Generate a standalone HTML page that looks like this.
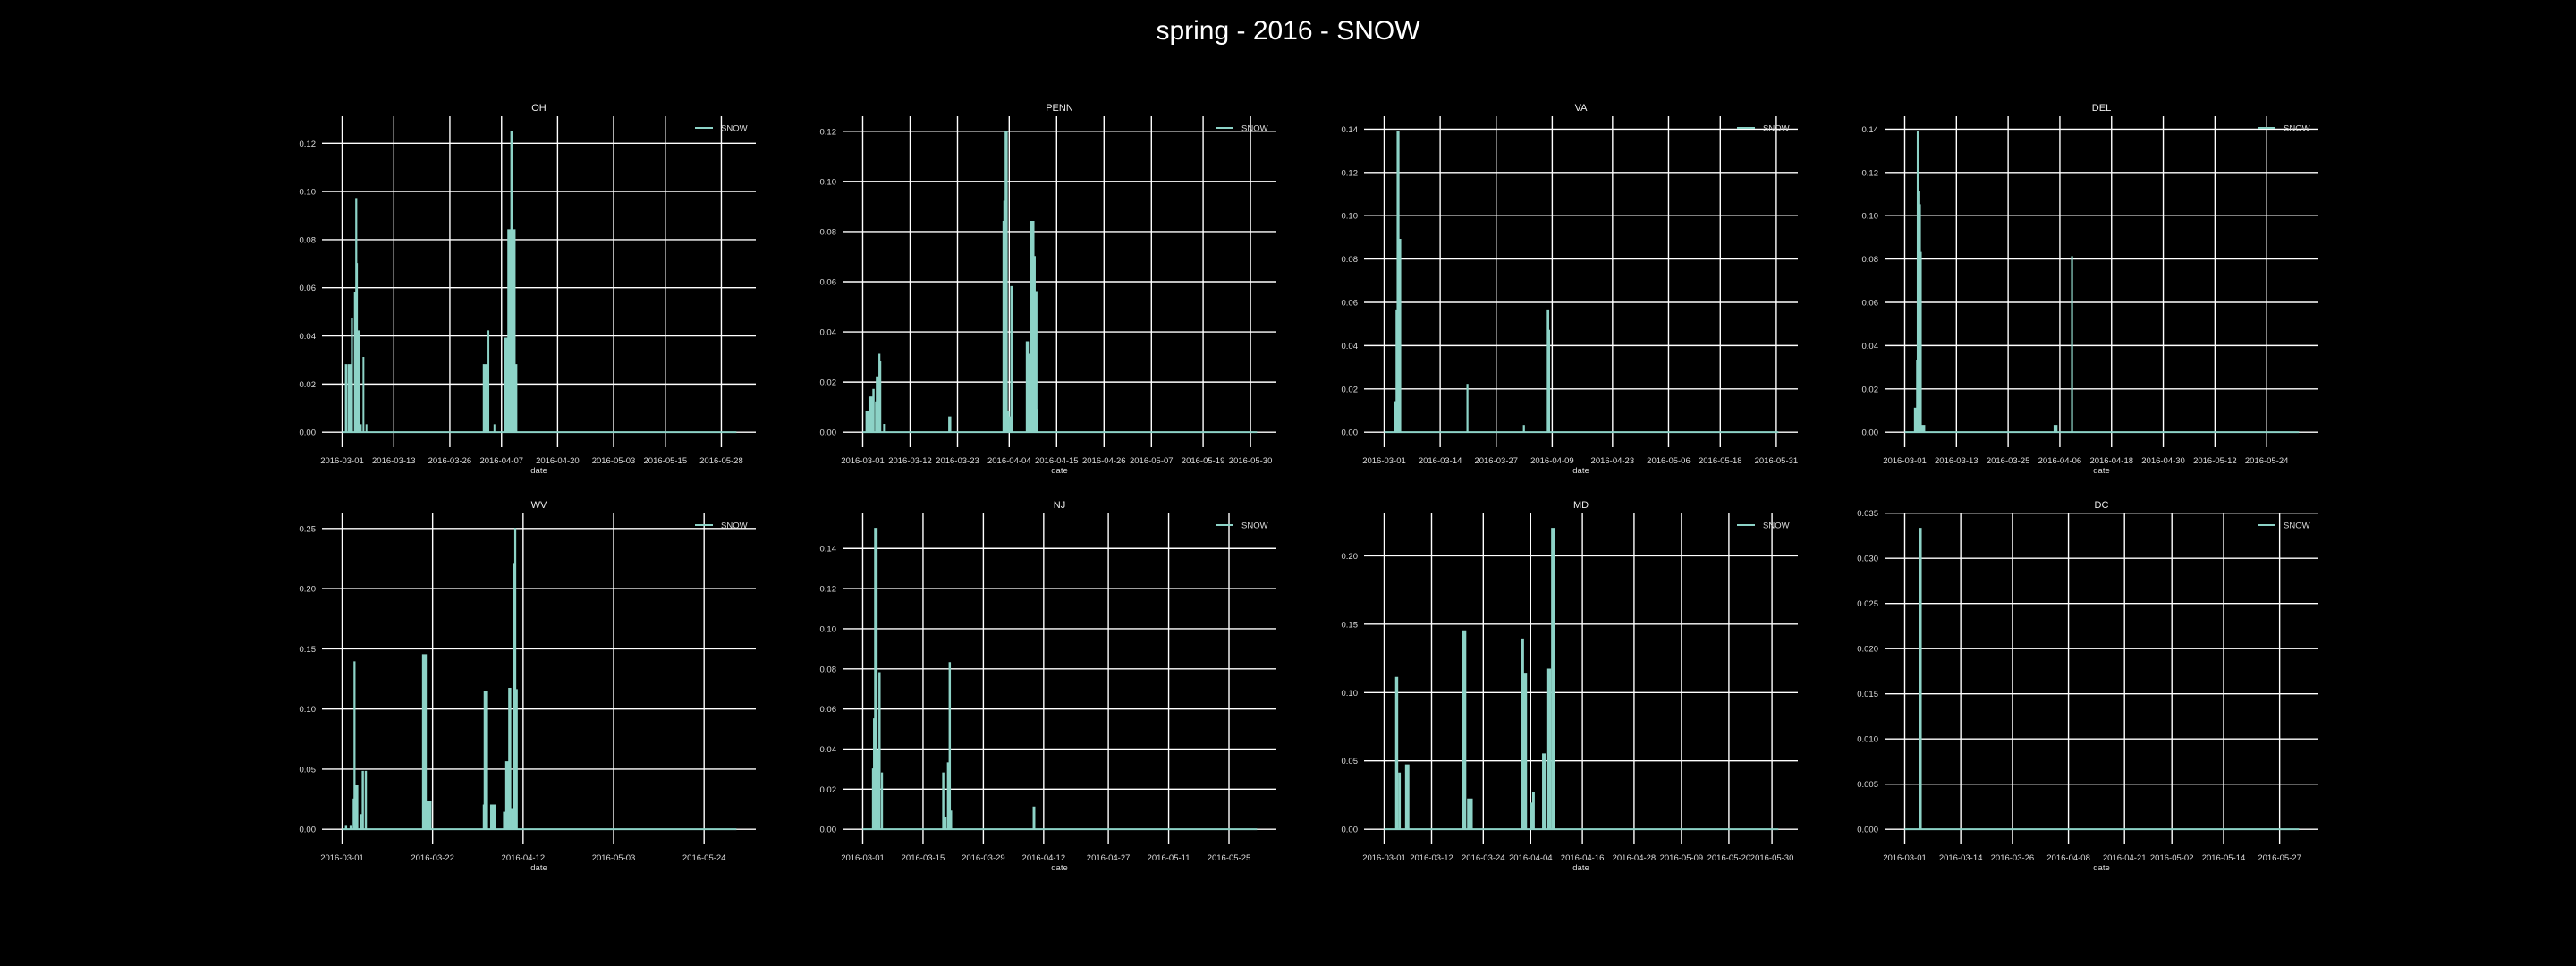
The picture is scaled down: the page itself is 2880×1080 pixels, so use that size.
<!DOCTYPE html>
<html><head><meta charset="utf-8"><style>
html,body{margin:0;padding:0;background:#000;}
svg{display:block;font-family:"Liberation Sans",sans-serif;}
</style></head><body>
<svg id="fig" width="2880" height="1080" xmlns="http://www.w3.org/2000/svg">
<rect x="0" y="0" width="2880" height="1080" fill="#000"/>
<text x="1440" y="44" fill="#fff" font-size="30" text-anchor="middle">spring - 2016 - SNOW</text>
</svg>
<script>
// ---- data (day offset from 2016-03-01, value) ----
const OH_start=[0.8,1.4,2.2,2.9,3.2,3.35,3.7,4.3,4.9,5.6,32.8,33.9,35.3,37.8,38.5,38.8,39.2,39.5,40.2];
const OH_end  =[1.0,2.0,2.35,3.2,3.35,3.5,4.0,4.4,5.0,5.7,33.8,34.0,35.4,38.3,38.6,39.2,39.4,40.1,40.5];
const OH_val  =[0.028,0.028,0.047,0.058,0.097,0.070,0.042,0.003,0.031,0.003,0.028,0.042,0.003,0.039,0.084,0.084,0.125,0.084,0.028];

const PENN_start=[0.8,1.5,2.0,2.4,3.0,3.2,3.8,4.0,4.9,20.0,32.6,32.8,33.1,33.6,34.1,34.4,38.0,38.6,39.0,39.7,40.0,40.5];
const PENN_end  =[1.2,1.9,2.4,2.6,3.2,3.6,3.95,4.15,5.0,20.4,32.8,33.1,33.5,33.9,34.4,34.7,38.4,38.9,39.7,40.0,40.4,40.6];
const PENN_val  =[0.008,0.014,0.014,0.017,0.012,0.022,0.031,0.028,0.003,0.006,0.084,0.092,0.12,0.008,0.006,0.058,0.036,0.031,0.084,0.07,0.056,0.009];

const VA_start=[2.5,2.8,3.05,3.4,19.25,32.35,37.9,38.15];
const VA_end  =[2.8,3.05,3.4,3.8,19.4,32.5,38.15,38.35];
const VA_val  =[0.014,0.056,0.139,0.089,0.022,0.003,0.056,0.047];

const DEL_start=[2.3,2.8,2.95,3.2,3.45,3.6,4.0,34.7,38.75];
const DEL_end  =[2.6,2.95,3.2,3.45,3.6,3.8,4.6,35.3,38.9];
const DEL_val  =[0.011,0.033,0.139,0.111,0.105,0.083,0.003,0.003,0.081];

const WV_start=[0.8,1.9,2.6,2.8,3.0,4.2,4.7,5.4,18.7,19.7,32.8,33.0,34.5,37.5,38.0,38.7,39.1,39.7,40.1,40.25];
const WV_end  =[1.0,2.1,2.8,2.95,3.6,4.4,4.9,5.6,19.5,20.6,33.0,33.7,35.6,37.8,38.5,39.1,39.6,40.1,40.25,40.6];
const WV_val  =[0.003,0.003,0.025,0.139,0.036,0.012,0.048,0.048,0.145,0.023,0.02,0.114,0.02,0.014,0.056,0.117,0.017,0.22,0.25,0.116];

const NJ_start=[2.3,2.55,2.8,3.4,3.8,4.4,18.6,18.9,19.7,20.1,20.4,39.6];
const NJ_end  =[2.55,2.75,3.3,3.75,4.0,4.55,18.8,19.3,20.05,20.3,20.6,39.9];
const NJ_val  =[0.03,0.055,0.15,0.039,0.078,0.028,0.028,0.006,0.033,0.083,0.009,0.011];

const MD_start=[2.7,3.4,5.0,18.3,19.4,32.0,32.4,34.0,34.5,36.8,38.0,38.9];
const MD_end  =[3.1,3.7,5.7,18.9,20.4,32.3,33.0,34.5,34.8,37.4,38.6,39.5];
const MD_val  =[0.111,0.041,0.047,0.145,0.022,0.139,0.114,0.019,0.027,0.055,0.117,0.22];

const DC_start=[3.4];
const DC_end  =[3.8];
const DC_val  =[0.0333];

// ---- tick labels ----
const OH_xlabels=["2016-03-01","2016-03-13","2016-03-26","2016-04-07","2016-04-20","2016-05-03","2016-05-15","2016-05-28"];
const PENN_xlabels=["2016-03-01","2016-03-12","2016-03-23","2016-04-04","2016-04-15","2016-04-26","2016-05-07","2016-05-19","2016-05-30"];
const VA_xlabels=["2016-03-01","2016-03-14","2016-03-27","2016-04-09","2016-04-23","2016-05-06","2016-05-18","2016-05-31"];
const DEL_xlabels=["2016-03-01","2016-03-13","2016-03-25","2016-04-06","2016-04-18","2016-04-30","2016-05-12","2016-05-24"];
const WV_xlabels=["2016-03-01","2016-03-22","2016-04-12","2016-05-03","2016-05-24"];
const NJ_xlabels=["2016-03-01","2016-03-15","2016-03-29","2016-04-12","2016-04-27","2016-05-11","2016-05-25"];
const MD_xlabels=["2016-03-01","2016-03-12","2016-03-24","2016-04-04","2016-04-16","2016-04-28","2016-05-09","2016-05-20","2016-05-30"];
const DC_xlabels=["2016-03-01","2016-03-14","2016-03-26","2016-04-08","2016-04-21","2016-05-02","2016-05-14","2016-05-27"];

const OH_yticks=[0,0.02,0.04,0.06,0.08,0.10,0.12];
const PENN_yticks=[0,0.02,0.04,0.06,0.08,0.10,0.12];
const VA_yticks=[0,0.02,0.04,0.06,0.08,0.10,0.12,0.14];
const DEL_yticks=[0,0.02,0.04,0.06,0.08,0.10,0.12,0.14];
const WV_yticks=[0,0.05,0.10,0.15,0.20,0.25];
const NJ_yticks=[0,0.02,0.04,0.06,0.08,0.10,0.12,0.14];
const MD_yticks=[0,0.05,0.10,0.15,0.20];
const DC_yticks=[0,0.005,0.010,0.015,0.020,0.025,0.030,0.035];

const NS="http://www.w3.org/2000/svg";
const svg=document.getElementById('fig');
const COLOR="#8dd3c7";
const X0=-4.67, X1=96.0, DATA_END=91.5;
const FS=9.5;
function mk(tag,attrs,parent){const e=document.createElementNS(NS,tag);for(const k in attrs)e.setAttribute(k,attrs[k]);(parent||svg).appendChild(e);return e;}
function dayOf(s){const m=+s.slice(5,7),d=+s.slice(8,10);const base={3:0,4:31,5:61}[m];return base+d-1;}

function panel(name,left,top,xlabels,yticks,starts,ends,vals,dec){
  const W=485,H=370;
  const g=mk('g',{});
  
  
  const vmax=Math.max(...vals);
  const y0=-0.05*vmax, y1=1.05*vmax;
  const sx=d=>left+(d-X0)/(X1-X0)*W;
  const sy=v=>top+H-(v-y0)/(y1-y0)*H;
  yticks.forEach(t=>{
    const y=sy(t);
    const l=mk('line',{x1:left,x2:left+W,y1:y,y2:y,stroke:'#fff','stroke-width':1.4},g);
    
    
    const tx=mk('text',{x:left-7,y:y+3.5,fill:'#ddd','font-size':FS,'text-anchor':'end'},g);
    
    
    tx.textContent=t.toFixed(dec);
  });
  xlabels.forEach(s=>{
    const x=sx(dayOf(s));
    const l=mk('line',{x1:x,x2:x,y1:top,y2:top+H,stroke:'#fff','stroke-width':1.4},g);
    
    
    const tx=mk('text',{x:x,y:top+H+18,fill:'#ddd','font-size':FS,'text-anchor':'middle'},g);
    
    
    tx.textContent=s;
  });
  const ti=mk('text',{x:left+W/2,y:top-6,fill:'#eee','font-size':11,'text-anchor':'middle'},g);
  
  
  ti.textContent=name;
  const xl=mk('text',{x:left+W/2,y:top+H+29,fill:'#ddd','font-size':FS,'text-anchor':'middle'},g);
  
  
  xl.textContent='date';
  const bl=mk('line',{x1:sx(0),x2:sx(DATA_END),y1:sy(0),y2:sy(0),stroke:COLOR,'stroke-width':2},g);
  
  
  for(let i=0;i<vals.length;i++){
    const a=sx(starts[i]),b=sx(ends[i]),yb=sy(0),yv=sy(vals[i]);
    const p=mk('path',{d:`M${a},${yb}L${a},${yv}L${b},${yv}L${b},${yb}Z`,fill:COLOR,stroke:COLOR,'stroke-width':1.5},g);
    
    
  }
  const lg=mk('g',{},g);
  
  
  const ll=mk('line',{x1:left+W-68,x2:left+W-48,y1:top+13,y2:top+13,stroke:COLOR,'stroke-width':2},lg);
  
  
  const lt=mk('text',{x:left+W-39,y:top+16.5,fill:'#ddd','font-size':FS},lg);
  
  
  lt.textContent='SNOW';
}
const L=[360,942,1525,2107], T=[130,574];
panel('OH',L[0],T[0],OH_xlabels,OH_yticks,OH_start,OH_end,OH_val,2);
panel('PENN',L[1],T[0],PENN_xlabels,PENN_yticks,PENN_start,PENN_end,PENN_val,2);
panel('VA',L[2],T[0],VA_xlabels,VA_yticks,VA_start,VA_end,VA_val,2);
panel('DEL',L[3],T[0],DEL_xlabels,DEL_yticks,DEL_start,DEL_end,DEL_val,2);
panel('WV',L[0],T[1],WV_xlabels,WV_yticks,WV_start,WV_end,WV_val,2);
panel('NJ',L[1],T[1],NJ_xlabels,NJ_yticks,NJ_start,NJ_end,NJ_val,2);
panel('MD',L[2],T[1],MD_xlabels,MD_yticks,MD_start,MD_end,MD_val,2);
panel('DC',L[3],T[1],DC_xlabels,DC_yticks,DC_start,DC_end,DC_val,3);
</script>
</body></html>
